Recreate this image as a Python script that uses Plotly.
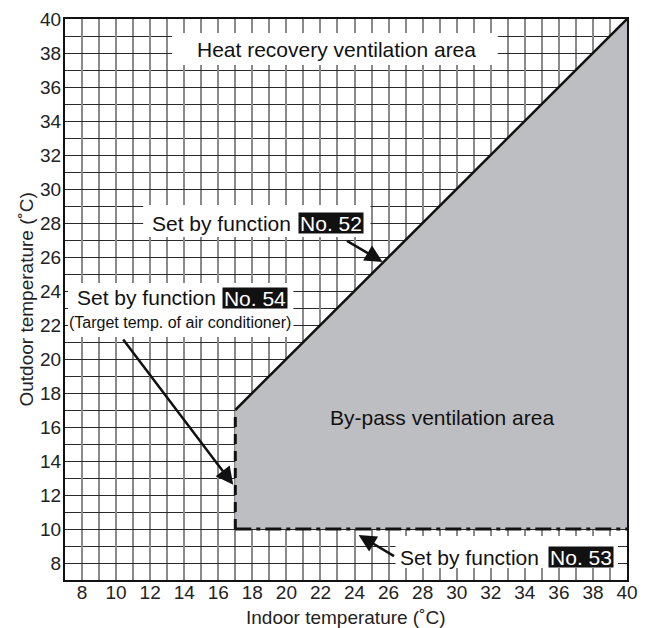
import plotly.graph_objects as go

# ---- data ----
x_range = [7, 40]
y_range = [7, 40]
tick_vals = list(range(8, 41, 2))

# By-pass ventilation area boundary (indoor, outdoor)
area_x = [17, 17, 40, 40]
area_y = [10, 17, 40, 10]

# Function No. 52 boundary (outdoor = indoor)
f52_x = [17, 40]
f52_y = [17, 40]
# Function No. 54 boundary (indoor = 17)
f54_x = [17, 17]
f54_y = [10, 17]
# Function No. 53 boundary (outdoor = 10)
f53_x = [17, 40]
f53_y = [10, 10]

FONT = "Liberation Sans, Arial, Helvetica, sans-serif"

fig = go.Figure()

fig.add_trace(go.Scatter(
    x=area_x + [area_x[0]], y=area_y + [area_y[0]], mode="lines",
    fill="toself", fillcolor="#bdbec1", line=dict(width=0),
    hoverinfo="skip", showlegend=False))
fig.add_trace(go.Scatter(
    x=f52_x, y=f52_y, mode="lines", line=dict(color="#111", width=2.5),
    showlegend=False))
fig.add_trace(go.Scatter(
    x=f54_x, y=f54_y, mode="lines",
    line=dict(color="#111", width=3, dash="10px,7px"), showlegend=False))
fig.add_trace(go.Scatter(
    x=f53_x, y=f53_y, mode="lines",
    line=dict(color="#111", width=3, dash="16px,5px,4px,5px"), showlegend=False))

# white label backgrounds (cover grid)
boxes = [
    (13.29, 32.41, 37.29, 39.18),
    (11.59, 24.94, 27.18, 29.06),
    (7.18, 20.41, 21.29, 24.47),
    (26.41, 39.47, 7.71, 9.59),
]
for x0, x1, y0, y1 in boxes:
    fig.add_shape(type="rect", x0=x0, x1=x1, y0=y0, y1=y1, xref="x", yref="y",
                  fillcolor="white", line=dict(width=0), layer="between")

ann = []
def txt(x, y, s, xanchor="center", size=21, family=FONT, color="#111"):
    ann.append(dict(x=x, y=y, xref="x", yref="y", text=s, showarrow=False,
                    xanchor=xanchor, yanchor="middle",
                    font=dict(family=family, size=size, color=color)))

def tag(x, y, s):
    ann.append(dict(x=x, y=y, xref="x", yref="y", text=s, showarrow=False,
                    xanchor="left", yanchor="middle", bgcolor="#111",
                    width=64, height=20, borderpad=0,
                    font=dict(family=FONT, size=21, color="white")))

def arrow(x, y, ax, ay):
    ann.append(dict(x=x, y=y, ax=ax, ay=ay, xref="x", yref="y", axref="x", ayref="y",
                    text="", showarrow=True, arrowhead=2, arrowsize=1.4,
                    arrowwidth=2.5, arrowcolor="#111", standoff=0))

txt(22.94, 38.18, "Heat recovery ventilation area")
txt(29.12, 16.53, "By-pass ventilation area")

txt(20.41, 28.0, "Set by function", xanchor="right")
tag(20.71, 28.0, "No. 52")
arrow(25.65, 25.71, 23.47, 27.0)

txt(16.0, 23.59, "Set by function", xanchor="right")
tag(16.24, 23.59, "No. 54")
txt(13.76, 22.12, "(Target temp. of air conditioner)", size=16)
arrow(16.88, 12.6, 10.35, 21.24)

txt(34.94, 8.35, "Set by function", xanchor="right")
tag(35.35, 8.35, "No. 53")
arrow(24.24, 9.65, 26.41, 8.35)

# axis titles
ann.append(dict(x=0.5, y=0, xref="paper", yref="paper", text="Indoor temperature (˚C)",
                showarrow=False, xanchor="center", yanchor="middle", yshift=-37,
                font=dict(family=FONT, size=19, color="#222")))
ann.append(dict(x=0, y=0.5, xref="paper", yref="paper", text="Outdoor temperature (˚C)",
                showarrow=False, xanchor="center", yanchor="middle", xshift=-39,
                textangle=-90, font=dict(family=FONT, size=19, color="#222")))

axis_common = dict(
    tickvals=tick_vals, ticks="", ticklen=0, showline=True, mirror=True,
    linecolor="#111", linewidth=2, automargin=False,
    tickfont=dict(family=FONT, size=19, color="#222"),
    zeroline=False,
)

# page body adds an 8px offset, so the figure is 8px smaller than the window
fig.update_layout(
    width=648, height=620,
    margin=dict(l=57, r=29, t=11, b=48),
    paper_bgcolor="white", plot_bgcolor="white",
    annotations=ann,
    xaxis=dict(range=x_range, **axis_common, ticklabelstandoff=-6,
               showgrid=True, gridcolor="#8a8a8a", gridwidth=1.5,
               minor=dict(dtick=1, tick0=0, showgrid=True, gridcolor="#8a8a8a", gridwidth=1.5)),
    yaxis=dict(range=y_range, **axis_common, ticklabelstandoff=-2,
               showgrid=True, gridcolor="#2a2a2a", gridwidth=1,
               minor=dict(dtick=1, tick0=0, showgrid=True, gridcolor="#2a2a2a", gridwidth=1)),
)

fig.write_html("out.html")
